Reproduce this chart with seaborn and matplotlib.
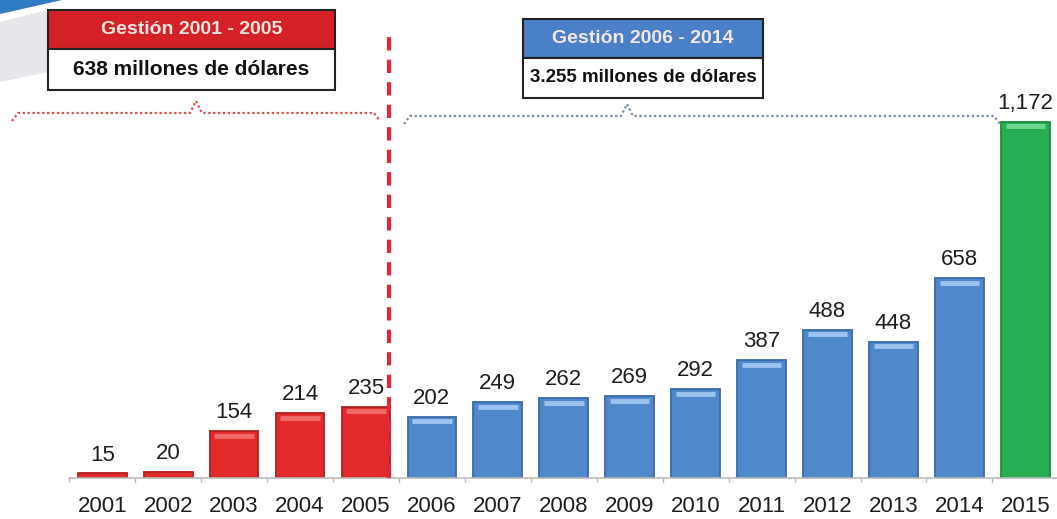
import numpy as np
import pandas as pd
import matplotlib
matplotlib.use("Agg")
import matplotlib.pyplot as plt
import seaborn as sns

# Chart data
years = ["2001", "2002", "2003", "2004", "2005", "2006", "2007", "2008",
         "2009", "2010", "2011", "2012", "2013", "2014", "2015"]
values = [15, 20, 154, 214, 235, 202, 249, 262, 269, 292, 387, 488, 448, 658, 1172]
periods = ["2001-2005"] * 5 + ["2006-2014"] * 9 + ["2015"]
value_labels = ["15", "20", "154", "214", "235", "202", "249", "262", "269",
                "292", "387", "488", "448", "658", "1,172"]

box_titles = ["Gestión 2001 - 2005", "Gestión 2006 - 2014"]
box_texts = ["638 millones de dólares", "3.255 millones de dólares"]

period_colors = {"2001-2005": "#E32B2B", "2006-2014": "#5088CC", "2015": "#27AE52"}
edge_colors = {"2001-2005": "#B31E1E", "2006-2014": "#3A69A8", "2015": "#1C8A41"}
light_colors = {"2001-2005": "#F06A6A", "2006-2014": "#9CC2EE", "2015": "#6FD690"}

df = pd.DataFrame({"year": years, "value": values, "period": periods})

sns.set_theme(style="white")
plt.rcParams['font.family'] = ['Liberation Sans', 'DejaVu Sans']

W, H = 1057, 519
fig = plt.figure(figsize=(W / 100, H / 100), dpi=100)
fig.patch.set_facecolor("white")


def fx(x):
    return x / W


def fy(y):
    return 1 - y / H


# decorative swoosh in the top-left corner
fig.add_artist(plt.Polygon([(fx(0), fy(0)), (fx(62), fy(0)), (fx(0), fy(14))],
                           facecolor="#2F7BC4", edgecolor="none"))
fig.add_artist(plt.Polygon([(fx(0), fy(22)), (fx(48), fy(10)), (fx(48), fy(72)), (fx(0), fy(82))],
                           facecolor="#E6E7EA", edgecolor="none"))

# axes: baseline 41px from bottom, full width
ax = fig.add_axes([0, 41 / H, 1, (H - 41) / H])
ax.set_facecolor("none")

sns.barplot(data=df, x="year", y="value", hue="period", palette=period_colors,
            dodge=False, width=0.74, legend=False, ax=ax, saturation=1)

for bar, p in zip(ax.patches, df["period"]):
    bar.set_edgecolor(edge_colors[p])
    bar.set_linewidth(1.3)

ax.set_xlim(-1.55, 14.48)
ax.set_ylim(0, 1573)

# highlight strip near top of each bar + value labels
for i, (v, p, lab) in enumerate(zip(values, periods, value_labels)):
    if v > 30:
        ax.plot([i - 0.3, i + 0.3], [v - 15, v - 15], color=light_colors[p],
                lw=3.5, solid_capstyle="butt", zorder=3)
    ax.text(i, v + 26, lab, ha="center", va="bottom", fontsize=16,
            color="#1E1E1E", zorder=4)

# axis baseline and ticks
ax.plot([-0.5, 14.5], [0, 0], color="#BBBBBB", lw=1.2, zorder=1, clip_on=False)
for i in range(len(years) + 1):
    ax.plot([i - 0.5, i - 0.5], [0, -12], color="#BBBBBB", lw=1, clip_on=False)
ax.set_xlabel("")
ax.set_ylabel("")
ax.set_yticks([])
ax.tick_params(axis="x", length=0, pad=13, labelsize=16, labelcolor="#1E1E1E")
for s in ax.spines.values():
    s.set_visible(False)

# dashed separator between the two periods
ax.plot([4.35, 4.35], [0, 1460], color="#E0283A", lw=3, ls=(0, (3.2, 2.2)), zorder=5)


# dotted braces
def brace(x0, x1, xm, y, color):
    xs = [x0, x0 + 6, xm - 6, xm, xm + 6, x1 - 6, x1]
    ys = [y + 8, y, y, y - 12, y, y, y + 8]
    fig.add_artist(plt.Line2D([fx(x) for x in xs], [fy(yy) for yy in ys],
                              color=color, lw=1.6, ls=(0, (1, 1.2))))


brace(12, 380, 196, 113, "#E04848")
brace(404, 1000, 627, 116, "#7788AA")


# title boxes
def title_box(x0, x1, y0, ymid, y1, head_color, title, text, fs):
    fig.add_artist(plt.Rectangle((fx(x0), fy(ymid)), fx(x1 - x0), (ymid - y0) / H,
                                 facecolor=head_color, edgecolor="#222222", lw=1.5))
    fig.add_artist(plt.Rectangle((fx(x0), fy(y1)), fx(x1 - x0), (y1 - ymid) / H,
                                 facecolor="white", edgecolor="#222222", lw=1.5))
    fig.text(fx((x0 + x1) / 2), fy((y0 + ymid) / 2), title, ha="center", va="center",
             color="#F5E6E0", fontsize=14, fontweight="bold")
    fig.text(fx((x0 + x1) / 2), fy((ymid + y1) / 2), text, ha="center", va="center",
             color="#111111", fontsize=fs, fontweight="bold")


title_box(48, 335, 10, 49, 90, "#D42027", box_titles[0], box_texts[0], 15)
title_box(523, 763, 19, 58, 98, "#4A80C8", box_titles[1], box_texts[1], 13.5)

fig.savefig("out.png", dpi=100)
